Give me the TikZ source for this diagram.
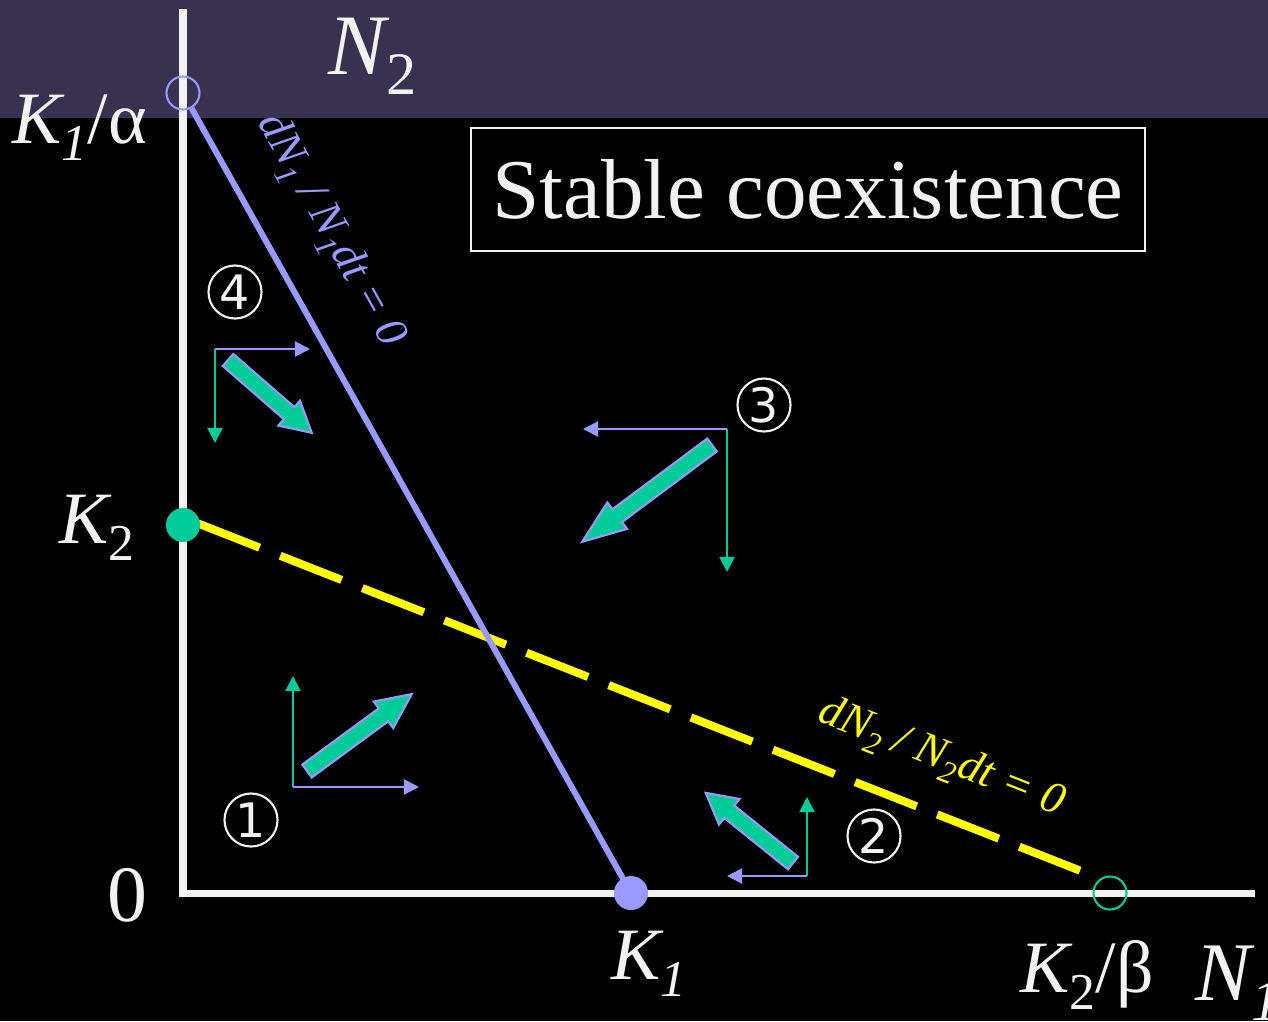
\documentclass[tikz,border=0pt]{standalone}
\usepackage{fontspec}
\setmainfont{Liberation Serif}
\newfontfamily\digitfont{DejaVu Sans}
\usetikzlibrary{arrows.meta}
\definecolor{band}{RGB}{56,50,80}
\definecolor{vio}{RGB}{153,153,255}
\definecolor{grn}{RGB}{0,204,153}
\definecolor{offwhite}{RGB}{242,242,242}
\definecolor{yel}{RGB}{255,255,0}
\newcommand\lsub[1]{\raisebox{-0.24em}{\scalebox{0.7}{#1}}}

\begin{document}
\begin{tikzpicture}[x=0.01cm, y=-0.01cm,
      axis/.style    = {draw=offwhite, line width=2pt},
      lbl/.style     = {text=offwhite, inner sep=0pt,
                        font=\fontsize{21}{25}\selectfont\itshape},
      num/.style     = {circle, draw=offwhite, line width=0.6pt,
                        minimum size=0.53cm, inner sep=0pt, text=offwhite,
                        font=\digitfont\fontsize{13.5}{16}\selectfont},
      dot/.style     = {circle, inner sep=0pt, minimum size=0.34cm},
      ring/.style    = {circle, draw, line width=0.6pt, inner sep=0pt,
                        minimum size=0.33cm},
      isocline/.style = {inner sep=0pt, font=\fontsize{12.8}{15}\selectfont\itshape},
      arr/.style     = {-{Triangle[length=4.3pt, width=4.3pt]}, line width=0.6pt},
      pics/fat/.style = {code={
        \filldraw[fill=grn, draw=vio, line width=0.6pt]
          (0,-8) -- ({0.73*#1},-8) -- ({0.73*#1},-16.5) -- (#1,0)
          -- ({0.73*#1},16.5) -- ({0.73*#1},8) -- (0,8) -- cycle;
      }}
    ]

    % background and title band
    \fill[black] (0,0) rectangle (1268,1021);
    \fill[band]  (0,0) rectangle (1268,118);
    \useasboundingbox (0,0) rectangle (1268,1021);

    % axes
    \coordinate (origin) at (183,893);
    \draw[axis] (183,9) -- (origin) -- (1255,893);

    % isoclines
    \node[ring, draw=vio] (k1a) at (183,93)   {};
    \node[ring, draw=grn] (k2b) at (1110,893) {};
    \coordinate (y0) at (183,517.5);
    \coordinate (y1) at (1080,870.6);
    \draw[yel, line width=2.3pt, dash pattern=on 18.8pt off 6.3pt,
          dash phase=20.5pt] (y0) -- (y1);
    \node[dot, fill=vio] (k1) at (631,893) {};
    \draw[vio, line width=1.7pt] (k1a) -- (k1.center);
    \node[dot, fill=grn] (k2) at (183,525) {};

    \node[isocline, text=vio, rotate=-60.75] (iso1) at (330,231)
      {dN\lsub{1} / N\lsub{1}dt = 0};
    \node[isocline, text=yel, rotate=-21.5] (iso2) at (941,759)
      {dN\lsub{2} / N\lsub{2}dt = 0};

    % axis labels
    \node[lbl, anchor=base west, font=\fontsize{24.5}{29}\selectfont\itshape]
      (n2) at (328,74) {N\lsub{\upshape 2}};
    \node[lbl, anchor=base west] (k1alab) at (12,143) {K\lsub{1}\upshape/α};
    \node[lbl, anchor=base west] (k2lab) at (59,543) {K\lsub{\upshape 2}};
    \node[lbl, anchor=base, font=\fontsize{22.7}{27}\selectfont] (zero) at (127,921) {0};
    \node[lbl, anchor=base west] (k1lab) at (611,979) {K\lsub{1}};
    \node[lbl, anchor=base west] (k2blab) at (1020,992) {K\lsub{\upshape 2}\upshape/β};
    \node[lbl, anchor=base west, font=\fontsize{23.7}{28}\selectfont\itshape]
      (n1) at (1195,1000) {N\lsub{1}};

    \node[draw=offwhite, line width=0.7pt, minimum width=6.74cm,
          minimum height=1.23cm, inner sep=0pt, text=offwhite,
          font=\fontsize{24.2}{29}\selectfont] (stable) at (808,189.5)
      {Stable coexistence};

    % regions
    \node[num] (r1) at (251,820) {1};
    \node[num] (r2) at (874,836) {2};
    \node[num] (r3) at (764,405) {3};
    \node[num] (r4) at (235,292) {4};

    % component vectors
    \coordinate (v1) at (293,787);
    \draw[arr, grn] (v1) -- ++(0,-111);
    \draw[arr, vio] (v1) -- ++(126,0);
    \coordinate (v2) at (807,876);
    \draw[arr, grn] (v2) -- ++(0,-79);
    \draw[arr, vio] (v2) -- ++(-80,0);
    \coordinate (v3) at (727,429);
    \draw[arr, vio] (v3) -- ++(-144,0);
    \draw[arr, grn] (v3) -- ++(0,143);
    \coordinate (v4) at (215,349);
    \draw[arr, vio] (v4) -- ++(95,0);
    \draw[arr, grn] (v4) -- ++(0,94);

    % resultant vectors
    \pic[rotate=36.3]   at (307,771) {fat=130};
    \pic[rotate=141.2]  at (793,863) {fat=112};
    \pic[rotate=-143.3] at (712,445) {fat=162};
    \pic[rotate=-41]    at (228,360) {fat=111};
  \end{tikzpicture}
\end{document}
